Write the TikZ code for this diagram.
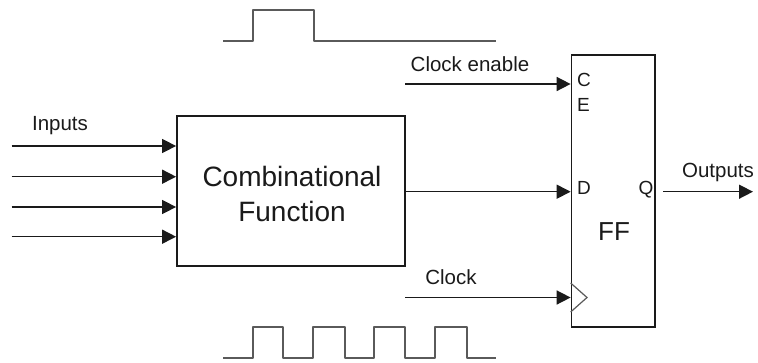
\documentclass[tikz,border=0pt]{standalone}
\usepackage{fontspec}
\setmainfont{Liberation Sans}
\usetikzlibrary{arrows.meta}
\definecolor{ln}{HTML}{1A1A1A}
\definecolor{wv}{HTML}{5A5A5A}
\tikzset{
  box/.style={draw=ln, line width=1.8pt, inner sep=0pt, fill=white},
  arr/.style={draw=ln, line width=1.5pt, -{Triangle[length=14pt,width=14pt]}},
  wave/.style={draw=wv, line width=2pt, line join=round},
  lbl/.style={text=ln, anchor=base, inner sep=0pt, font=\fontsize{20.5}{24}\selectfont},
  pin/.style={text=ln, anchor=base west, inner sep=0pt, font=\fontsize{19}{22}\selectfont},
}
\begin{document}
\begin{tikzpicture}[x=1pt,y=-1pt]
\useasboundingbox (0,0) rectangle (758,362);
% boxes
\node[box, minimum width=228pt, minimum height=150pt] (comb) at (291,191) {};
\node[text=ln, align=center, inner sep=0pt, font=\fontsize{28}{35}\selectfont] (combtxt) at (292,194) {Combinational\\Function};
\node[box, minimum width=83.5pt, minimum height=272pt] (ff) at (613.3,191) {};
\node[text=ln, anchor=base, inner sep=0pt, font=\fontsize{26}{30}\selectfont] (fftxt) at (614,240) {FF};
% pin labels
\node[pin] (pc) at (577,86.7) {C};
\node[pin] (pe) at (577,111.7) {E};
\node[pin] (pd) at (577,194) {D};
\node[pin, anchor=base east] (pq) at (653.5,194) {Q};
% inputs
\node[lbl] (inlbl) at (60,130.7) {Inputs};
\foreach \i/\y in {1/146,2/176.7,3/207,4/236.7}{
  \coordinate (in\i) at (11.7,\y);
  \draw[arr] (in\i) -- (in\i -| comb.west);
}
% comb output to D
\coordinate (dout) at (comb.east |- 0,191.7);
\draw[arr] (dout) -- (dout -| ff.west);
% clock enable
\coordinate (ce) at (405,84);
\node[lbl] (celbl) at (470,71) {Clock enable};
\draw[arr] (ce) -- (ce -| ff.west);
% clock
\coordinate (ck) at (405,297.5);
\node[lbl] (cklbl) at (451,284.3) {Clock};
\draw[arr] (ck) -- (ck -| ff.west);
\draw[draw=wv, line width=1.2pt, line join=miter] (ff.west |- 0,283) -- (587,297.5) -- (ff.west |- 0,312);
% output
\coordinate (qs) at (663,191.7);
\coordinate (qe) at (753,191.7);
\draw[arr] (qs) -- (qe);
\node[lbl] (outlbl) at (718,177) {Outputs};
% waveforms
\draw[wave] (223,40.7) -- (253,40.7) -- (253,10) -- (314,10) -- (314,40.7) -- (496,40.7);
\draw[wave] (223,358) -- (253,358) -- (253,327) -- (283,327) -- (283,358) -- (313,358) -- (313,327) -- (345,327) -- (345,358)
  -- (374,358) -- (374,327) -- (405,327) -- (405,358) -- (435,358) -- (435,327) -- (467,327) -- (467,358) -- (496,358);
\end{tikzpicture}
\end{document}
